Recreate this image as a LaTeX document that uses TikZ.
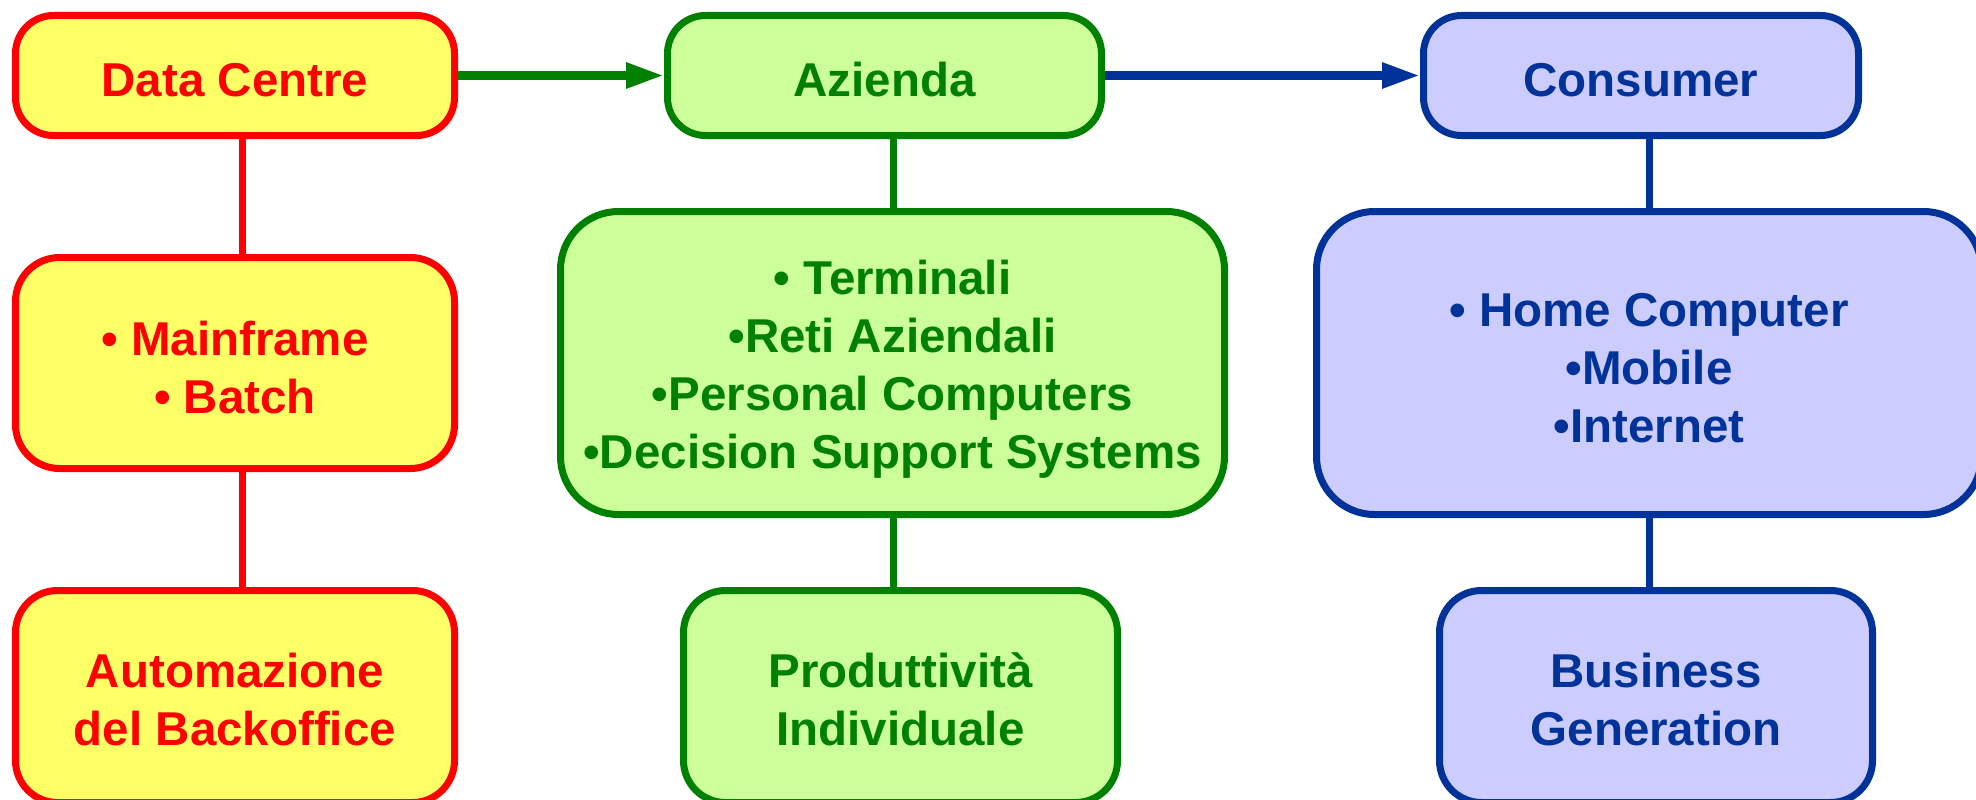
\documentclass[tikz,border=0pt]{standalone}
\usepackage{fontspec}
\setmainfont{Liberation Sans}
\usetikzlibrary{arrows.meta}

\definecolor{dcred}{HTML}{FF0000}
\definecolor{dcfill}{HTML}{FFFF66}
\definecolor{azgreen}{HTML}{008000}
\definecolor{azfill}{HTML}{CCFF99}
\definecolor{coblue}{HTML}{003399}
\definecolor{cofill}{HTML}{CCCCFF}

% invisible strut that pushes the first line of a box slightly down
\newcommand\firstline[1]{\rule{0pt}{#1pt}}

\tikzset{
  box/.style={draw, line width=7pt, rectangle, align=center, inner sep=0pt,
    font=\fontsize{47.5}{58}\selectfont\bfseries},
  redbox/.style={box, draw=dcred, fill=dcfill, text=dcred},
  greenbox/.style={box, draw=azgreen, fill=azfill, text=azgreen},
  bluebox/.style={box, draw=coblue, fill=cofill, text=coblue},
  link/.style={line width=7pt},
  flow/.style={line width=8.5pt, -{Triangle[length=38pt,width=24pt]}},
}

\begin{document}
\begin{tikzpicture}[x=1pt, y=-1pt]
  \clip (0,0) rectangle (1976,800);
  \fill[white] (0,0) rectangle (1976,800);

  % Data Centre column
  \node[redbox, rounded corners=38pt, minimum width=439pt, minimum height=120pt]
    (dc) at (235,75.5) {\firstline{42}Data Centre};
  \node[redbox, rounded corners=44pt, minimum width=439pt, minimum height=211pt]
    (mf) at (235,363) {\firstline{43}• Mainframe\\• Batch};
  \node[redbox, rounded corners=42pt, minimum width=439pt, minimum height=212pt]
    (au) at (235,696.5) {\firstline{41}Automazione\\del Backoffice};

  % Azienda column
  \node[greenbox, rounded corners=38pt, minimum width=434pt, minimum height=120pt]
    (az) at (884.5,75.5) {\firstline{42}Azienda};
  \node[greenbox, rounded corners=58pt, minimum width=664pt, minimum height=303pt]
    (te) at (892.5,363) {\firstline{46}• Terminali\\•Reti Aziendali\\•Personal Computers\\•Decision Support Systems};
  \node[greenbox, rounded corners=42pt, minimum width=434pt, minimum height=212pt]
    (pr) at (900.5,696.5) {\firstline{41}Produttività\\Individuale};

  % Consumer column
  \node[bluebox, rounded corners=38pt, minimum width=435pt, minimum height=120pt]
    (co) at (1641,75.5) {\firstline{42}Consumer};
  \node[bluebox, rounded corners=58pt, minimum width=665pt, minimum height=303pt]
    (ho) at (1649,363) {\firstline{43}• Home Computer\\•Mobile\\•Internet};
  \node[bluebox, rounded corners=42pt, minimum width=433pt, minimum height=212pt]
    (bu) at (1656,696.5) {\firstline{41}Business\\Generation};

  % vertical links
  \coordinate (rx) at (242,0);
  \coordinate (gx) at (893,0);
  \coordinate (bx) at (1649,0);
  \draw[link, dcred] (dc.south -| rx) -- (mf.north -| rx);
  \draw[link, dcred] (mf.south -| rx) -- (au.north -| rx);
  \draw[link, azgreen] (az.south -| gx) -- (te.north -| gx);
  \draw[link, azgreen] (te.south -| gx) -- (pr.north -| gx);
  \draw[link, coblue] (co.south -| bx) -- (ho.north -| bx);
  \draw[link, coblue] (ho.south -| bx) -- (bu.north -| bx);

  % horizontal flow
  \draw[flow, azgreen] (dc.east) -- (az.west);
  \draw[flow, coblue] (az.east) -- (co.west);
\end{tikzpicture}
\end{document}
